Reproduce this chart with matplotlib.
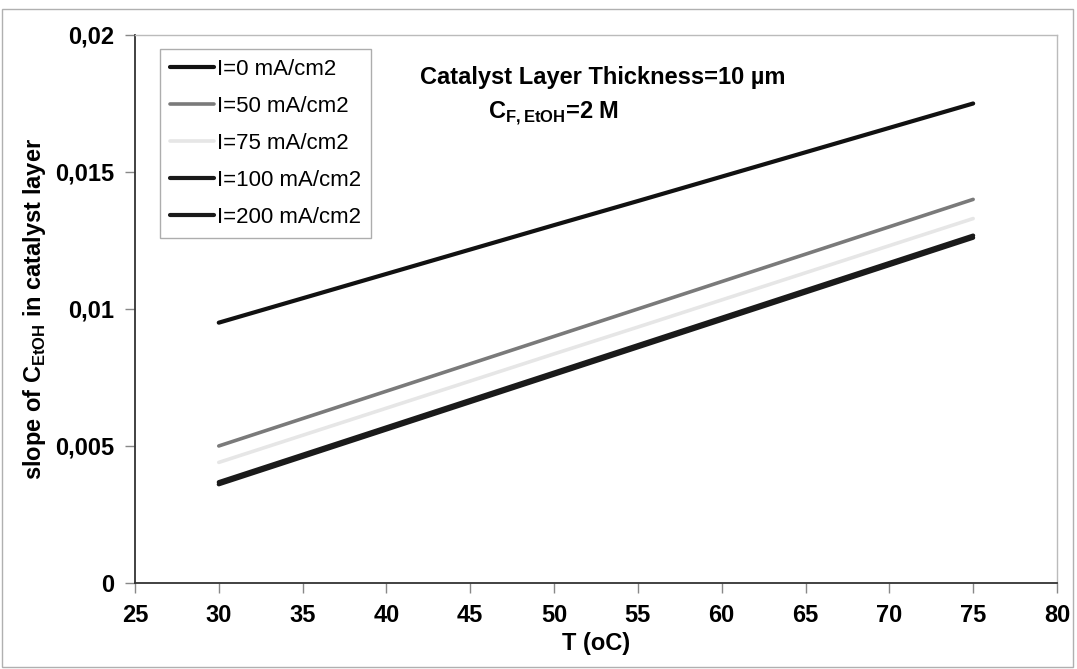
import matplotlib
matplotlib.use("Agg")
import matplotlib.pyplot as plt
from matplotlib.patches import Rectangle

plt.rcParams['font.family'] = ['Liberation Sans', 'DejaVu Sans']
plt.rcParams['mathtext.fontset'] = 'custom'
plt.rcParams['mathtext.rm'] = 'Liberation Sans:bold'
plt.rcParams['mathtext.bf'] = 'Liberation Sans:bold'

# data
T = [30, 35, 40, 45, 50, 55, 60, 65, 70, 75]
i0 = [0.00950, 0.01039, 0.01128, 0.01217, 0.01306, 0.01394, 0.01483, 0.01572, 0.01661, 0.01750]
i50 = [0.00500, 0.00600, 0.00700, 0.00800, 0.00900, 0.01000, 0.01100, 0.01200, 0.01300, 0.01400]
i75 = [0.00440, 0.00539, 0.00638, 0.00737, 0.00836, 0.00934, 0.01033, 0.01132, 0.01231, 0.01330]
i100 = [0.00360, 0.00460, 0.00560, 0.00660, 0.00760, 0.00860, 0.00960, 0.01060, 0.01160, 0.01260]
i200 = [0.00368, 0.00468, 0.00568, 0.00668, 0.00768, 0.00868, 0.00968, 0.01068, 0.01168, 0.01268]
labels = ['I=0 mA/cm2', 'I=50 mA/cm2', 'I=75 mA/cm2', 'I=100 mA/cm2', 'I=200 mA/cm2']
xticks = [25, 30, 35, 40, 45, 50, 55, 60, 65, 70, 75, 80]
yticks = [0, 0.005, 0.01, 0.015, 0.02]
ytick_labels = ['0', '0,005', '0,01', '0,015', '0,02']

fig = plt.figure(figsize=(10.77, 6.69), dpi=100)
ax = fig.add_axes([0.1253, 0.1286, 0.8561, 0.8191])

# outer chart border
fig.patches.append(Rectangle((0.002, 0.003), 0.994, 0.983, transform=fig.transFigure,
                             fill=False, edgecolor='#b0b0b0', linewidth=1))

series = [i0, i50, i75, i100, i200]
colors = ['#111111', '#7a7a7a', '#e6e6e6', '#1a1a1a', '#1a1a1a']
widths = [3.0, 2.6, 2.6, 3.0, 3.0]
for ys, c, w, lab in zip(series, colors, widths, labels):
    ax.plot(T, ys, color=c, linewidth=w, label=lab, solid_capstyle='round')

ax.set_xlim(25, 80)
ax.set_ylim(0, 0.02)
ax.set_xticks(xticks)
ax.set_xticklabels([str(v) for v in xticks], fontsize=17, fontweight='bold')
ax.set_yticks(yticks)
ax.set_yticklabels(ytick_labels, fontsize=17, fontweight='bold')
ax.tick_params(direction='out', length=7, width=1, color='#888888')
ax.tick_params(axis='x', pad=8)
ax.tick_params(axis='y', pad=8)

for side in ['left', 'bottom']:
    ax.spines[side].set_color('#333333')
    ax.spines[side].set_linewidth(1.3)
for side in ['top', 'right']:
    ax.spines[side].set_color('#bbbbbb')
    ax.spines[side].set_linewidth(1)

ax.set_xlabel('T (oC)', fontsize=17, fontweight='bold', labelpad=4)
ax.set_ylabel(r'slope of C$_{\mathrm{EtOH}}$ in catalyst layer', fontsize=17,
              fontweight='bold', labelpad=5)

ax.text(0.309, 0.923, 'Catalyst Layer Thickness=10 µm', transform=ax.transAxes,
        fontsize=17, fontweight='bold', va='center')
ax.text(0.383, 0.858, r'C$_{\mathrm{F,EtOH}}$=2 M', transform=ax.transAxes,
        fontsize=17, fontweight='bold', va='center')

leg = ax.legend(loc='upper left', bbox_to_anchor=(0.027, 0.974), fontsize=16,
                frameon=True, fancybox=False, handlelength=2.0, handletextpad=0.1,
                labelspacing=0.72, borderpad=0.45, borderaxespad=0)
leg.get_frame().set_edgecolor('#999999')
leg.get_frame().set_linewidth(1)

fig.savefig('out.png', dpi=100)
